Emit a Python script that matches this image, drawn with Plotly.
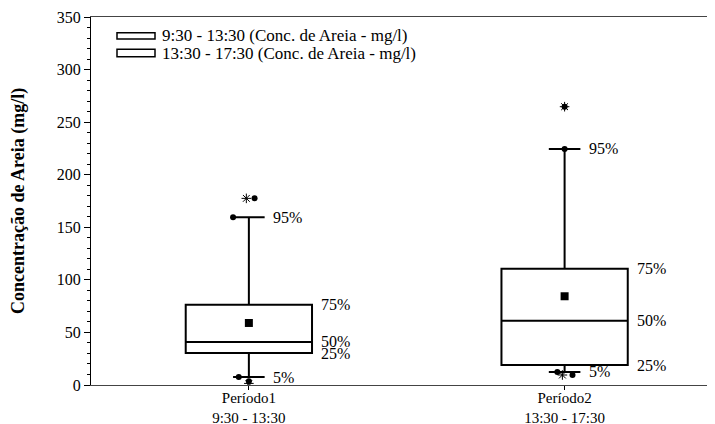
import plotly.graph_objects as go

# ---- data ----
categories = ["Período1<br>9:30 - 13:30", "Período2<br>13:30 - 17:30"]
positions = [1, 2]
p5 = [7.5, 12.4]
q1 = [30.4, 19.0]
median = [41.0, 61.0]
q3 = [76.4, 110.6]
p95 = [159.5, 224.5]
mean = [59.0, 84.4]

# individual plotted points (dots) : group index, horizontal offset, value
dot_group = [0, 0, 0, 0, 1, 1, 1, 1]
dot_offset = [-0.05, -0.032, 0.0, 0.018, 0.0, 0.0, -0.023, 0.025]
dot_value = [159.5, 7.5, 3.5, 177.5, 264.7, 224.5, 12.4, 9.5]

# asterisk points
star_group = [0, 0, 1, 1]
star_offset = [-0.008, 0.0, 0.0, -0.007]
star_value = [177.5, 1.5, 264.7, 9.5]

pct_labels = ["95%", "75%", "50%", "25%", "5%"]
legend_labels = ["9:30 - 13:30 (Conc. de Areia - mg/l)",
                 "13:30 - 17:30 (Conc. de Areia - mg/l)"]
y_title = "Concentração de Areia (mg/l)"

FONT = "Liberation Serif"

fig = go.Figure()

fig.add_trace(go.Box(
    x=positions, q1=q1, median=median, q3=q3,
    lowerfence=p5, upperfence=p95,
    width=0.4, whiskerwidth=0.25,
    fillcolor="white", line=dict(color="black", width=2),
    boxpoints=False, showlegend=False, hoverinfo="skip",
))

fig.add_trace(go.Scatter(
    x=positions, y=mean, mode="markers",
    marker=dict(symbol="square", size=8, color="black"),
    showlegend=False,
))

fig.add_trace(go.Scatter(
    x=[positions[g] + o for g, o in zip(dot_group, dot_offset)],
    y=dot_value, mode="markers",
    marker=dict(symbol="circle", size=6, color="black"),
    showlegend=False,
))

fig.add_trace(go.Scatter(
    x=[positions[g] + o for g, o in zip(star_group, star_offset)],
    y=star_value, mode="markers",
    marker=dict(symbol="asterisk-open", size=8, color="black",
                line=dict(color="black", width=1)),
    showlegend=False,
))

annotations = []
for i, p in enumerate(positions):
    stats = [p95[i], q3[i], median[i], q1[i], p5[i]]
    for lab, v in zip(pct_labels, stats):
        if lab in ("95%", "5%"):
            xx = p + 0.05 + 0.02
        else:
            xx = p + 0.2 + 0.022
        annotations.append(dict(x=xx, y=v, xref="x", yref="y", text=lab,
                                showarrow=False, xanchor="left", yanchor="middle",
                                font=dict(family=FONT, size=16, color="black")))

# legend
leg_y_box = [(0.9573, 0.9402), (0.9122, 0.8921)]
leg_y_text = [0.951, 0.902]
shapes = []
for (yt, yb), ytxt, lab in zip(leg_y_box, leg_y_text, legend_labels):
    shapes.append(dict(type="rect", xref="paper", yref="paper",
                       x0=0.0418, x1=0.1029, y0=yb, y1=yt,
                       line=dict(color="black", width=1.5), fillcolor="white"))
    annotations.append(dict(x=0.111, y=ytxt, xref="paper", yref="paper", text=lab,
                            showarrow=False, xanchor="left", yanchor="middle",
                            font=dict(family=FONT, size=17, color="black")))

annotations.append(dict(x=-0.1174, y=0.5, xref="paper", yref="paper", text="<b>" + y_title + "</b>",
                        showarrow=False, textangle=-90, xanchor="center", yanchor="middle",
                        font=dict(family=FONT, size=18, color="black")))

# page body has an 8px default margin, so the figure is sized to fit the window
fig.update_layout(
    width=707, height=416,
    margin=dict(l=83, r=2, t=9, b=39),
    paper_bgcolor="white", plot_bgcolor="white",
    showlegend=False,
    annotations=annotations, shapes=shapes,
    font=dict(family=FONT, size=15, color="black"),
)

fig.update_xaxes(
    range=[0.5, 2.47], tickvals=positions, ticktext=categories,
    ticks="outside", ticklen=4, tickcolor="black",
    showline=True, linecolor="#444", linewidth=1, mirror=True,
    showgrid=False, zeroline=False, automargin=False,
    ticklabelstandoff=-5,
    tickfont=dict(family=FONT, size=15, color="black"),
)
fig.update_yaxes(
    range=[0, 350], dtick=50, tick0=0,
    ticks="outside", ticklen=6, tickcolor="black",
    minor=dict(dtick=10, ticks="outside", ticklen=3, tickcolor="black"),
    showline=True, linecolor="black", linewidth=1,
    showgrid=False, zeroline=False, automargin=False,
    tickfont=dict(family=FONT, size=16, color="black"),
)

fig.write_html("out.html")
